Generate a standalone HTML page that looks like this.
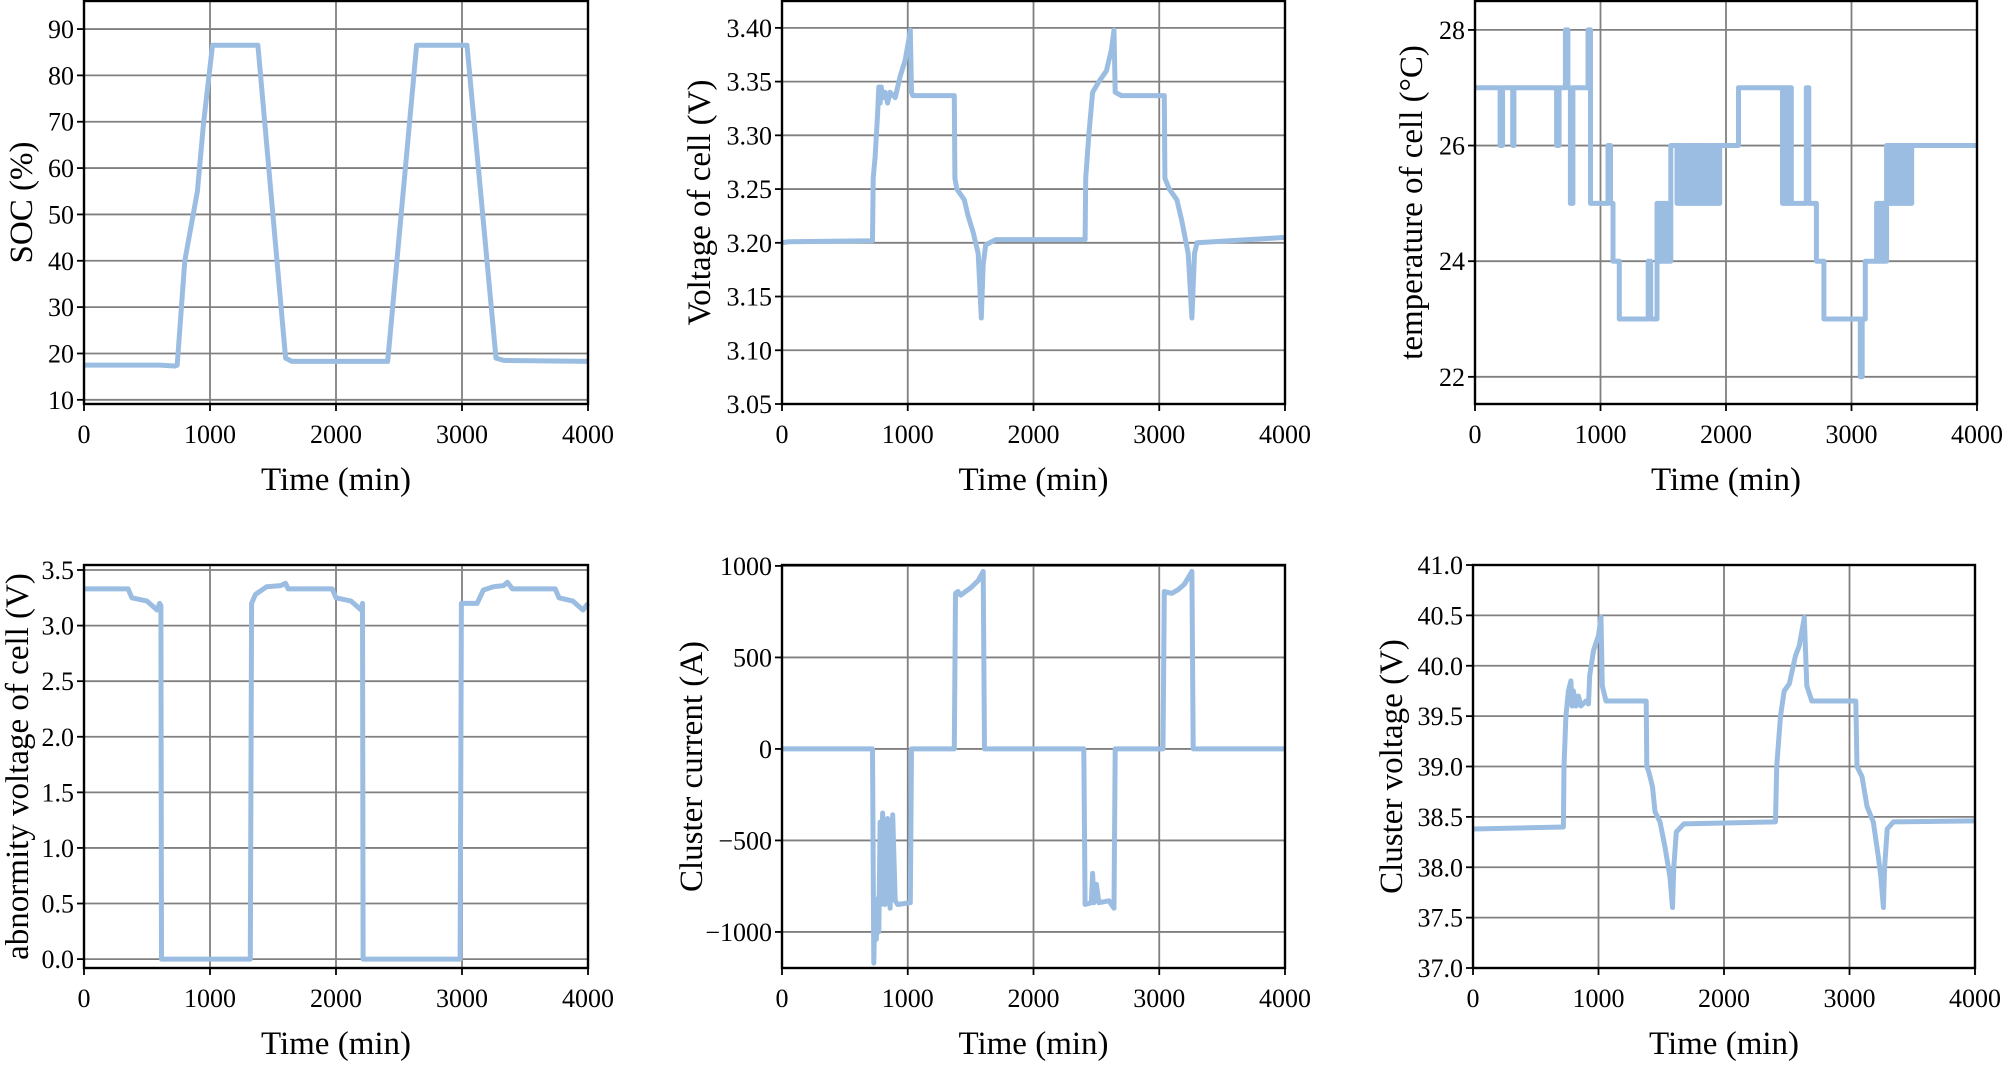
<!DOCTYPE html>
<html><head><meta charset="utf-8"><style>
body{margin:0;background:#fff;}
text{font-family:"Liberation Serif","DejaVu Serif",serif;fill:#000;}
</style></head><body>
<svg id="s" width="2003" height="1062" viewBox="0 0 2003 1062" xmlns="http://www.w3.org/2000/svg" font-family="Liberation Serif, serif"></svg>
<script>
var S=document.getElementById('s'),out='';
var FF=' font-family="Liberation Serif, DejaVu Serif, serif"';
function panel(o){
 var L=o.L,R=o.R,T=o.T,B=o.B;
 var X=function(x){return L+(x)/4000*(R-L);};
 var Y=function(y){return B-(y-o.ymin)/(o.ymax-o.ymin)*(B-T);};
 for(var xv=1000;xv<4000;xv+=1000){out+='<line x1="'+X(xv)+'" y1="'+T+'" x2="'+X(xv)+'" y2="'+B+'" stroke="#808080" stroke-width="1.8"/>';}
 o.yt.forEach(function(v){var y=Y(v);out+='<line x1="'+L+'" y1="'+y+'" x2="'+R+'" y2="'+y+'" stroke="#808080" stroke-width="1.8"/>';
  out+='<line x1="'+(L-7)+'" y1="'+y+'" x2="'+L+'" y2="'+y+'" stroke="#000" stroke-width="1.8"/>';
  out+='<text'+FF+' x="'+(L-10)+'" y="'+(y+9)+'" font-size="26" text-anchor="end">'+o.fmt(v)+'</text>';});
 var pts=o.d.map(function(p){return X(p[0]).toFixed(1)+','+Y(p[1]).toFixed(1);}).join(' ');
 out+='<clipPath id="c'+L+T+'"><rect x="'+L+'" y="'+(T-3)+'" width="'+(R-L+3)+'" height="'+(B-T+3)+'"/></clipPath>';
 out+='<polyline clip-path="url(#c'+L+T+')" points="'+pts+'" fill="none" stroke="#9bbde2" stroke-width="5" stroke-linejoin="round"/>';
 out+='<rect x="'+L+'" y="'+T+'" width="'+(R-L)+'" height="'+(B-T)+'" fill="none" stroke="#000" stroke-width="2.4"/>';
 for(var xv=0;xv<=4000;xv+=1000){var x=X(xv);out+='<line x1="'+x+'" y1="'+B+'" x2="'+x+'" y2="'+(B+7)+'" stroke="#000" stroke-width="1.8"/>';
  out+='<text'+FF+' x="'+x+'" y="'+(B+39)+'" font-size="26" text-anchor="middle">'+xv+'</text>';}
 out+='<text'+FF+' x="'+((L+R)/2)+'" y="'+(B+86)+'" font-size="33" text-anchor="middle">Time (min)</text>';
 out+='<text'+FF+' transform="translate('+o.lx+','+((T+B)/2)+') rotate(-90)" font-size="33" text-anchor="middle">'+o.lab+'</text>';
}
function rng(a,b,s){var r=[];for(var v=a;v<=b+1e-9;v+=s)r.push(+v.toFixed(3));return r;}
function osc(a,b,hi,lo,n){var r=[],st=(b-a)/n;for(var i=0;i<n;i++){var x=a+i*st;r.push([x,hi],[x+st/2,hi],[x+st/2,lo],[x+st,lo]);}return r;}
var f0=function(v){return v;},f1=function(v){return v.toFixed(1);},f2=function(v){return v.toFixed(2);};
var T1=1,B1=404,T2=565,B2=968;
panel({L:84,R:588,T:T1,B:B1,ymin:9.1,ymax:96.05,yt:rng(10,90,10),fmt:f0,lx:32,lab:'SOC (%)',
 d:[[0,17.5],[600,17.5],[720,17.3],[740,17.5],[800,40],[900,55],[950,70],[1020,86.5],[1380,86.5],[1600,19],[1650,18.3],[2410,18.3],[2640,86.5],[3040,86.5],[3270,19],[3330,18.5],[4000,18.3]]});
panel({L:782,R:1285,T:T1,B:B1,ymin:3.05,ymax:3.425,yt:rng(3.05,3.40,0.05),fmt:f2,lx:710,lab:'Voltage of cell (V)',
 d:[[0,3.2],[50,3.201],[720,3.202],[725,3.26],[740,3.28],[760,3.32],[770,3.345],[780,3.33],[790,3.345],[800,3.335],[820,3.34],[840,3.33],[860,3.34],[900,3.335],[920,3.345],[940,3.355],[980,3.37],[1010,3.39],[1020,3.398],[1030,3.34],[1040,3.337],[1370,3.337],[1375,3.26],[1390,3.25],[1420,3.245],[1450,3.24],[1480,3.225],[1520,3.21],[1560,3.19],[1585,3.13],[1600,3.18],[1620,3.198],[1700,3.203],[2410,3.203],[2415,3.26],[2440,3.3],[2470,3.34],[2520,3.35],[2580,3.36],[2620,3.38],[2640,3.398],[2650,3.34],[2700,3.337],[3040,3.337],[3045,3.26],[3080,3.25],[3140,3.24],[3180,3.22],[3230,3.19],[3260,3.13],[3280,3.19],[3300,3.2],[4000,3.205]]});
var td=[[0,27],[200,27],[200,26],[220,26],[220,27],[300,27],[300,26],[310,26],[310,27],[650,27],[650,26],[670,26],[670,27],[720,27],[720,28],[740,28],[740,27],[760,27],[760,25],[780,25],[780,27],[900,27],[900,28],[920,28],[920,25],[1060,25],[1060,26],[1080,26],[1080,25],[1100,25],[1100,24],[1150,24],[1150,23],[1380,23],[1380,24],[1400,24],[1400,23],[1450,23],[1450,24]]
 .concat(osc(1450,1560,25,24,6)).concat([[1560,25],[1560,26]]).concat(osc(1600,1950,26,25,18)).concat([[1950,26],[2100,26],[2100,27],[2450,27]]).concat(osc(2450,2520,25,27,4)).concat([[2520,25],[2640,25],[2640,27],[2660,27],[2660,25],[2720,25],[2720,24],[2780,24],[2780,23],[3070,23],[3070,22],[3085,22],[3085,23],[3110,23],[3110,24],[3200,24]])
 .concat(osc(3200,3280,25,24,5)).concat([[3280,26]]).concat(osc(3280,3480,26,25,14)).concat([[3480,26],[4000,26]]);
panel({L:1475,R:1977,T:T1,B:B1,ymin:21.53,ymax:28.5,yt:[22,24,26,28],fmt:f0,lx:1422,lab:'temperature of cell (°C)',d:td});
panel({L:84,R:588,T:T2,B:B2,ymin:-0.08,ymax:3.545,yt:rng(0,3.5,0.5),fmt:f1,lx:28,lab:'abnormity voltage of cell (V)',
 d:[[0,3.33],[350,3.33],[380,3.25],[500,3.22],[580,3.14],[600,3.2],[610,3.18],[615,0],[1320,0],[1330,3.2],[1360,3.28],[1450,3.35],[1560,3.36],[1600,3.38],[1620,3.33],[1970,3.33],[2000,3.25],[2120,3.22],[2200,3.14],[2210,3.2],[2215,0],[2985,0],[2995,3.2],[3120,3.2],[3170,3.32],[3250,3.35],[3330,3.36],[3360,3.39],[3400,3.33],[3740,3.33],[3770,3.25],[3880,3.22],[3960,3.14],[4000,3.2]]});
panel({L:782,R:1285,T:T2,B:B2,ymin:-1197,ymax:1005,yt:rng(-1000,1000,500),fmt:function(v){return v<0?'\u2212'+(-v):''+v;},lx:702,lab:'Cluster current (A)',
 d:[[0,0],[720,0],[730,-1170],[740,-820],[750,-1040],[760,-820],[770,-1000],[780,-400],[790,-850],[800,-350],[820,-850],[840,-380],[860,-870],[880,-360],[900,-830],[920,-850],[1020,-840],[1030,0],[1370,0],[1380,850],[1400,860],[1420,840],[1460,860],[1500,880],[1560,920],[1600,970],[1610,0],[2400,0],[2410,-850],[2460,-840],[2470,-680],[2480,-840],[2500,-740],[2520,-840],[2600,-830],[2640,-870],[2650,0],[3030,0],[3040,860],[3100,850],[3150,870],[3200,900],[3260,970],[3270,0],[4000,0]]});
panel({L:1473,R:1975,T:T2,B:B2,ymin:37,ymax:41,yt:rng(37,41,0.5),fmt:f1,lx:1402,lab:'Cluster voltage (V)',
 d:[[0,38.38],[720,38.4],[725,39.0],[740,39.5],[760,39.75],[780,39.85],[790,39.6],[800,39.75],[820,39.6],[840,39.7],[860,39.6],[900,39.65],[920,39.62],[930,39.9],[960,40.15],[1000,40.3],[1020,40.48],[1030,39.8],[1060,39.65],[1380,39.65],[1385,39.0],[1400,38.95],[1430,38.8],[1450,38.55],[1490,38.45],[1530,38.2],[1570,37.9],[1590,37.6],[1600,38.0],[1620,38.35],[1680,38.43],[2410,38.45],[2420,39.0],[2450,39.5],[2480,39.75],[2520,39.82],[2570,40.1],[2600,40.2],[2640,40.48],[2660,39.8],[2700,39.65],[3050,39.65],[3060,39.0],[3100,38.9],[3140,38.6],[3190,38.45],[3230,38.1],[3250,37.9],[3270,37.6],[3280,38.0],[3300,38.38],[3350,38.45],[4000,38.46]]});
S.innerHTML=out;
</script>
</body></html>
